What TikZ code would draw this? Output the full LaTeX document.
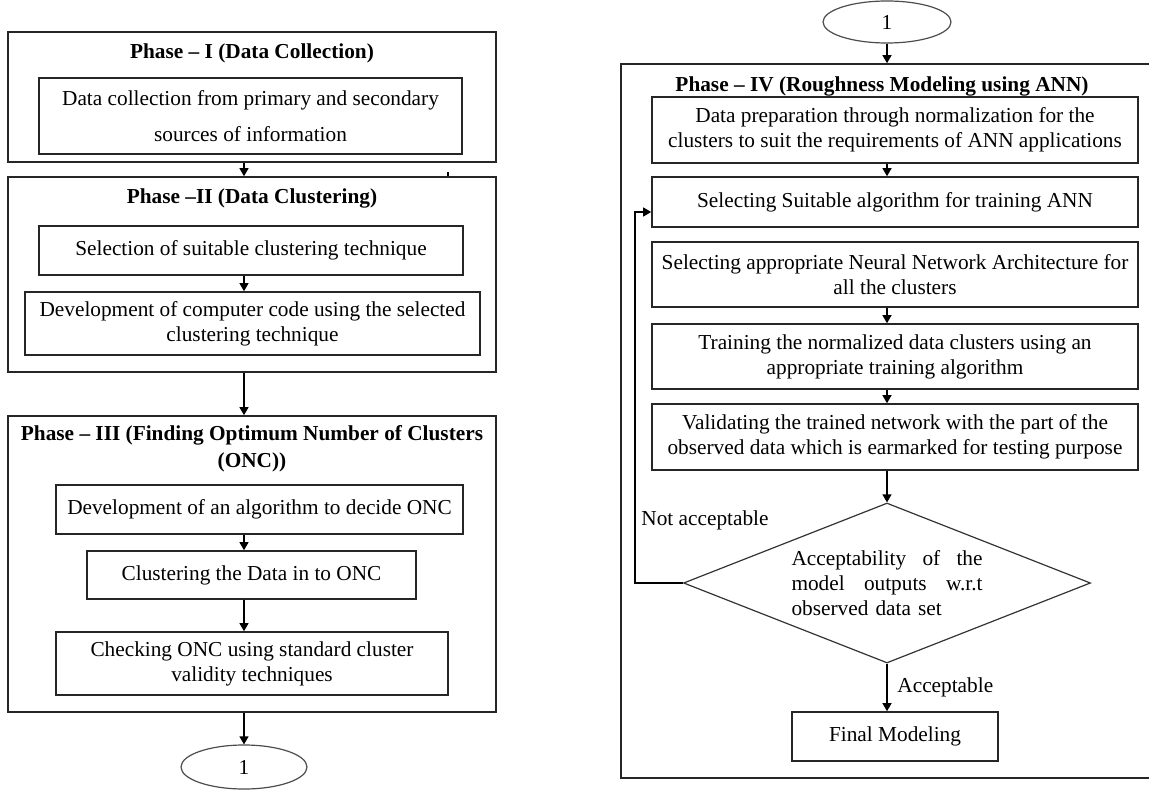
\documentclass[tikz,border=0pt]{standalone}
\usepackage{fontspec}
\setmainfont{Liberation Serif}
\usetikzlibrary{arrows.meta,shapes.geometric}
\newcommand{\phtext}{\fontsize{10.65pt}{12.5pt}\selectfont}
\tikzset{
  ph frame/.style={draw=black!85,line width=0.8pt},
  ph title/.style={font=\phtext\bfseries,align=center},
  ph step/.style={draw=black!85,line width=0.8pt,align=center,
    minimum width=243pt,minimum height=33pt},
  ph flow/.style={black,line width=0.6pt,-{Triangle[length=4pt,width=4.5pt]}},
  ph decide/.style={diamond,draw=black!80,line width=0.6pt,shape aspect=2.5,
    minimum width=203.5pt,minimum height=80pt},
  ph link/.style={ellipse,draw=black!70,line width=0.6pt,
    minimum width=63pt,minimum height=22pt}
}

\begin{document}
\begin{tikzpicture}[x=0.5pt,y=-0.5pt,
  every node/.append style={font=\phtext,inner sep=0pt}]
  \useasboundingbox (0,0) rectangle (1149,791);
  % left column
  \node[ph frame,minimum width=244pt,minimum height=65pt] (p1) at (252,97) {};
  \node[ph title] (t1) at (252,53) {Phase – I (Data Collection)};
  \node[ph step,minimum width=211.5pt,minimum height=38pt] (d1) at (250.5,116)
    {Data collection from primary and secondary\\[5.5pt]sources of information};
  \node[ph frame,minimum width=244pt,minimum height=97.5pt] (p2) at (252,274.5) {};
  \node[ph title] (t2) at (252,198) {Phase –II (Data Clustering)};
  \node[ph step,minimum width=212pt,minimum height=24.5pt] (d2) at (251,250.5)
    {Selection of suitable clustering technique};
  \node[ph step,minimum width=227.5pt,minimum height=31.5pt] (d3) at (252.5,323.5)
    {Development of computer code using the selected\\clustering technique};
  \coordinate (tk) at (448,172);
  \node[ph frame,minimum width=244pt,minimum height=148pt] (p3) at (252,564) {};
  \node[ph title] (t3) at (252,448.5)
    {Phase – III (Finding Optimum Number of Clusters\\[1pt](ONC))};
  \node[ph step,minimum width=203.5pt,minimum height=24.5pt] (d4) at (259.5,509.5)
    {Development of an algorithm to decide ONC};
  \node[ph step,minimum width=164.5pt,minimum height=24pt] (d5) at (251.5,575)
    {Clustering the Data in to ONC};
  \node[ph step,minimum width=196pt,minimum height=31.5pt] (d6) at (252,663.5)
    {Checking ONC using standard cluster\\validity techniques};
  \node[ph link] (c1) at (244,767) {1};
  \draw[ph flow] (p1.south -| c1) -- (p2.north -| c1);
  \draw[black,line width=0.6pt] (tk) -- (tk |- p2.north);
  \draw[ph flow] (d2.south -| c1) -- (d3.north -| c1);
  \draw[ph flow] (p2.south -| c1) -- (p3.north -| c1);
  \draw[ph flow] (d4.south -| c1) -- (d5.north -| c1);
  \draw[ph flow] (d5.south -| c1) -- (d6.north -| c1);
  \draw[ph flow] (p3.south -| c1) -- (c1.north);
  % right column
  \node[ph link,minimum width=64pt,minimum height=21pt] (c2) at (887,22) {1};
  \node[ph frame,minimum width=269.5pt,minimum height=357pt] (p4) at (890.5,421) {};
  \node[ph title] (t4) at (882,86) {Phase – IV (Roughness Modeling using ANN)};
  \node[ph step] (r1) at (895,130)
    {Data preparation through normalization for the\\clusters to suit the requirements of ANN applications};
  \node[ph step,minimum height=25pt] (r2) at (895,202)
    {Selecting Suitable algorithm for training ANN};
  \node[ph step,minimum height=32.5pt] (r3) at (895,274.5)
    {Selecting appropriate Neural Network Architecture for\\all the clusters};
  \node[ph step,minimum height=32.5pt] (r4) at (895,356.5)
    {Training the normalized data clusters using an\\appropriate training algorithm};
  \node[ph step] (r5) at (895,437)
    {Validating the trained network with the part of the\\observed data which is earmarked for testing purpose};
  \node[ph decide,text width=95.5pt,align=left] (dm) at (887,583)
    {Acceptability\hfill of\hfill the\\model\hfill outputs\hfill w.r.t\\observed data set};
  \node[ph step,minimum width=103pt,minimum height=24.5pt] (fin) at (895,736.5)
    {Final Modeling};
  \node[anchor=west] (na) at (641,520) {Not acceptable};
  \node[anchor=west] (ac) at (897,687) {Acceptable};
  \draw[ph flow] (c2) -- (p4.north -| c2);
  \draw[ph flow] (r1.south -| c2) -- (r2.north -| c2);
  \draw[ph flow] (r3.south -| c2) -- (r4.north -| c2);
  \draw[ph flow] (r4.south -| c2) -- (r5.north -| c2);
  \draw[ph flow] (r5.south -| c2) -- (dm.north);
  \draw[ph flow] (dm.south) -- (fin.north -| c2);
  \draw[ph flow] (dm.west) -- ++(-48,0) |- ([yshift=-5pt]r2.west);
\end{tikzpicture}
\end{document}
